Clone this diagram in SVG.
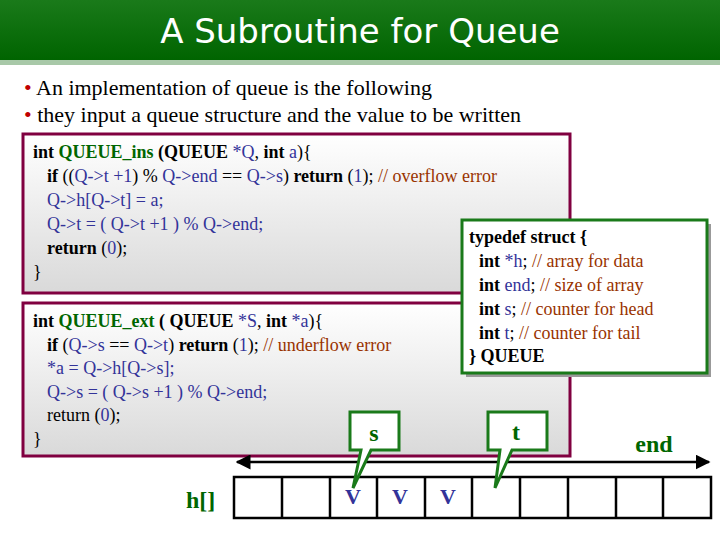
<svg xmlns="http://www.w3.org/2000/svg" width="720" height="540" viewBox="0 0 720 540">
<defs>
<linearGradient id="tg" x1="0" y1="0" x2="0" y2="1"><stop offset="0" stop-color="#1a7a1a"/><stop offset="1" stop-color="#006400"/></linearGradient>
<linearGradient id="bg" x1="0" y1="0" x2="0" y2="1"><stop offset="0" stop-color="#ffffff"/><stop offset="1" stop-color="#d9d9d9"/></linearGradient>
<marker id="ah" viewBox="0 0 10 10" refX="9" refY="5" markerWidth="6" markerHeight="6" orient="auto-start-reverse"><path d="M0,0L10,5L0,10z" fill="#000"/></marker>
</defs>
<style>
text{font-family:"Liberation Serif","Times New Roman",serif}
.c{font-size:18px;fill:#000}
.k{font-weight:bold;fill:#000}
.g{font-weight:bold;fill:#006600}
.v{fill:#333399}
.m{fill:#993300}
.box{fill:url(#bg);stroke:#800040;stroke-width:3}
.cell{fill:#fff;stroke:#000;stroke-width:2.5}
.call{fill:#fff;stroke:#1a7a1a;stroke-width:3;stroke-linejoin:miter}
.lbl{font-size:24px;font-weight:bold;fill:#006600}
</style>
<rect width="720" height="540" fill="#fff"/>
<g id="title">
<rect x="0" y="60" width="720" height="5" fill="#a8c8a8"/>
<rect x="0" y="0" width="720" height="60" fill="url(#tg)"/>
<text x="360" y="43" text-anchor="middle" style="font-family:'DejaVu Sans',sans-serif;font-size:34px;fill:#fff">A Subroutine for Queue</text>
</g>
<g id="bullets" style="font-size:22px">
<text x="24" y="95"><tspan fill="#c00000">•</tspan> An implementation of queue is the following</text>
<text x="24" y="122"><tspan fill="#c00000">•</tspan> they input a queue structure and the value to be written</text>
</g>
<g id="ins">
<rect class="box" x="23" y="134" width="547" height="159"/>
<text class="c" x="33" y="158"><tspan class="k">int </tspan><tspan class="g">QUEUE_ins</tspan><tspan class="k"> (QUEUE </tspan><tspan class="v">*Q</tspan>, <tspan class="k">int </tspan><tspan class="v">a</tspan>){</text>
<text class="c" x="47" y="182"><tspan class="k">if </tspan>((<tspan class="v">Q-&gt;t +1</tspan>) % <tspan class="v">Q-&gt;end</tspan> == <tspan class="v">Q-&gt;s</tspan>) <tspan class="k">return </tspan>(<tspan class="v">1</tspan>);   <tspan class="m">// overflow error</tspan></text>
<text class="c v" x="47" y="206">Q-&gt;h[Q-&gt;t] = a;</text>
<text class="c v" x="47" y="230">Q-&gt;t = ( Q-&gt;t +1 ) % Q-&gt;end;</text>
<text class="c" x="47" y="254"><tspan class="k">return </tspan>(<tspan class="v">0</tspan>);</text>
<text class="c" x="33" y="278">}</text>
</g>
<g id="ext">
<rect class="box" x="23" y="303" width="547" height="153"/>
<text class="c" x="33" y="327"><tspan class="k">int </tspan><tspan class="g">QUEUE_ext</tspan><tspan class="k"> ( QUEUE </tspan><tspan class="v">*S</tspan>, <tspan class="k">int </tspan><tspan class="v">*a</tspan>){</text>
<text class="c" x="47" y="351"><tspan class="k">if </tspan>(<tspan class="v">Q-&gt;s</tspan> == <tspan class="v">Q-&gt;t</tspan>) <tspan class="k">return </tspan>(<tspan class="v">1</tspan>);   <tspan class="m">// underflow error</tspan></text>
<text class="c v" x="47" y="374">*a = Q-&gt;h[Q-&gt;s];</text>
<text class="c v" x="47" y="398">Q-&gt;s = ( Q-&gt;s +1 ) % Q-&gt;end;</text>
<text class="c" x="47" y="421">return (<tspan class="v">0</tspan>);</text>
<text class="c" x="33" y="445">}</text>
</g>
<g id="typedef">
<rect x="466" y="224" width="245" height="153" fill="#999"/>
<rect x="462" y="220" width="245" height="153" fill="#fff" stroke="#1a7a1a" stroke-width="3"/>
<text class="c" x="469" y="243"><tspan class="k">typedef struct  {</tspan></text>
<text class="c" x="479" y="267"><tspan class="k">int </tspan><tspan class="v">*h</tspan>;    <tspan class="m">// array for data</tspan></text>
<text class="c" x="479" y="291"><tspan class="k">int </tspan><tspan class="v">end</tspan>;  <tspan class="m">// size of array</tspan></text>
<text class="c" x="479" y="315"><tspan class="k">int </tspan><tspan class="v">s</tspan>;    <tspan class="m">// counter for head</tspan></text>
<text class="c" x="479" y="339"><tspan class="k">int </tspan><tspan class="v">t</tspan>;    <tspan class="m">// counter for tail</tspan></text>
<text class="c" x="469" y="362"><tspan class="k">} QUEUE</tspan></text>
</g>
<g id="connectors">
<line x1="237" y1="462" x2="709" y2="462" stroke="#000" stroke-width="2.5" marker-start="url(#ah)" marker-end="url(#ah)"/>
</g>
<g id="array">
<text class="lbl" x="186" y="508">h[]</text>
<rect class="cell" x="234" y="477" width="477" height="41"/>
<path d="M282,477V518M330,477V518M377,477V518M425,477V518M472,477V518M520,477V518M568,477V518M616,477V518M663,477V518" stroke="#000" stroke-width="2.5"/>
<g style="font-size:22px;font-weight:bold;fill:#333399" text-anchor="middle">
<text x="353" y="504">V</text><text x="400" y="504">V</text><text x="448" y="504">V</text>
</g>
<text class="lbl" x="654" y="452" text-anchor="middle">end</text>
</g>
<g id="callout-s">
<path d="M350,412H399V450H371L353,488L361,450H350Z" class="call"/>
<text class="lbl" x="374" y="441" text-anchor="middle">s</text>
</g>
<g id="callout-t">
<path d="M488,412H547V450H512L495,488L500,450H488Z" class="call"/>
<text class="lbl" x="516" y="440" text-anchor="middle">t</text>
</g>
</svg>
